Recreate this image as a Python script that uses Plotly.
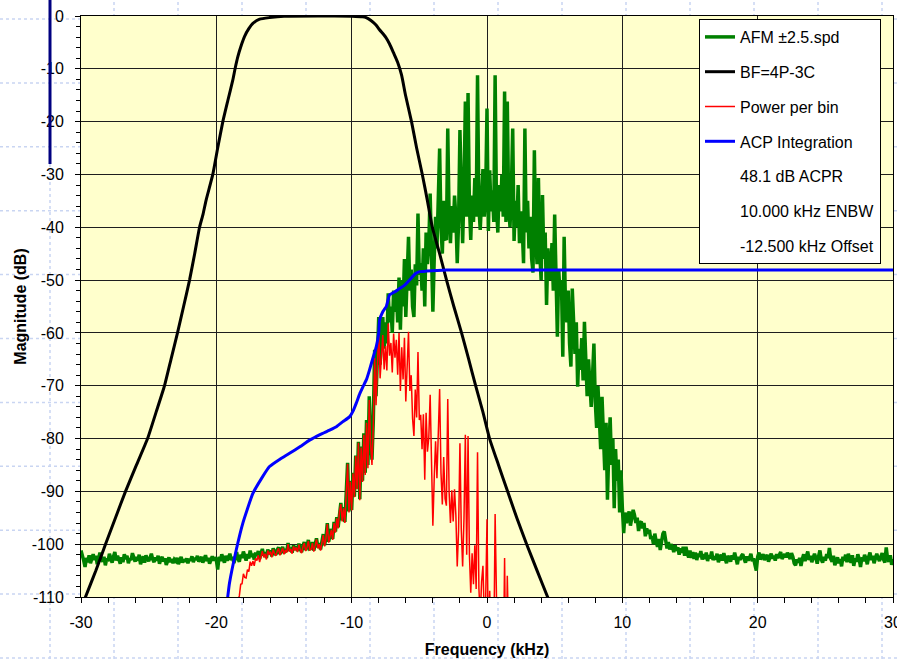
import numpy as np
import plotly.graph_objects as go

FONT = "Liberation Sans, Arial, sans-serif"

# ---------------- data ----------------
afm_start = -30.0   # kHz, first bin of the AFM spectrum
afm_step = 0.1      # kHz per bin
afm_db = [
    # -30.0 .. -13.1
    -101.2, -102.0, -103.1, -104.3, -102.6, -103.4, -102.1, -103.6, -102.8, -101.9,
    -103.0, -102.2, -103.8, -102.5, -101.6, -102.9, -103.3, -102.4, -104.0, -102.7,
    -103.2, -101.8, -102.6, -103.5, -102.3, -101.5, -103.1, -102.2, -102.9, -103.7,
    -102.5, -103.4, -101.9, -102.8, -102.2, -103.6, -102.7, -103.0, -101.7, -102.6,
    -103.3, -102.4, -103.1, -102.0, -103.8, -102.9, -102.3, -103.5, -102.1, -102.8,
    -103.2, -102.6, -101.8, -102.9, -103.4, -102.5, -103.1, -102.2, -103.7, -102.8,
    -102.4, -103.3, -102.7, -103.9, -103.1, -102.5, -103.4, -102.8, -103.6, -102.9,
    -103.2, -102.6, -103.8, -103.0, -102.4, -103.5, -102.9, -103.3, -102.7, -103.6,
    -102.8, -103.1, -102.3, -103.4, -102.6, -103.0, -102.2, -103.3, -102.7, -102.4,
    -103.5, -102.9, -102.1, -103.2, -102.6, -103.7, -102.8, -102.3, -103.1, -102.5,
    -103.0, -104.8, -102.4, -103.2, -101.9, -102.7, -103.5, -102.2, -103.1, -102.6,
    -101.8, -103.0, -102.4, -103.6, -102.1, -101.5, -102.8, -103.3, -102.0, -102.6,
    -101.4, -102.5, -103.1, -101.9, -102.7, -101.2, -102.4, -101.8, -102.9, -101.6,
    -102.2, -101.3, -102.8, -101.7, -100.9, -102.1, -101.5, -102.6, -101.0, -101.8,
    -101.2, -102.3, -100.8, -101.6, -102.0, -101.1, -100.6, -101.9, -101.3, -100.5,
    -101.7, -100.9, -101.4, -99.8, -101.2, -100.7, -101.6, -100.2, -101.0, -100.4,
    -101.3, -99.9, -100.8, -101.5, -100.3, -99.6, -101.1, -100.5, -99.2, -100.9,
    # -13.0 .. -8.1
    -100.8, -99.6, -101.2, -100.1, -98.9, -100.6, -99.8, -101.0, -99.2, -98.1,
    -100.2, -98.7, -96.0, -99.5, -98.3, -97.1, -99.0, -95.8, -97.6, -94.9,
    -96.8, -93.5, -92.2, -95.5, -93.0, -95.8, -90.1, -84.6, -93.8, -88.0,
    -93.5, -86.5, -91.0, -83.2, -89.5, -80.6, -91.5, -81.5, -88.0, -79.0,
    -86.5, -76.5, -85.0, -72.0, -80.0, -84.0, -76.5, -63.2, -72.0, -65.0,
    # -8.0 .. -0.1
    -57.0, -66.0, -60.7, -57.0, -63.0, -58.0, -62.0, -52.5, -58.0, -55.0,
    -60.0, -52.0, -56.0, -52.0, -58.0, -49.5, -59.4, -50.0, -55.0, -46.0,
    -57.0, -50.0, -41.8, -52.0, -48.0, -55.0, -57.0, -47.0, -51.0, -37.4,
    -49.0, -46.8, -52.0, -44.0, -55.0, -41.0, -47.0, -43.0, -33.6, -45.0,
    -56.0, -46.0, -38.0, -44.0, -33.0, -25.1, -40.0, -45.0, -35.0, -42.0,
    -42.4, -21.3, -38.0, -43.0, -36.0, -41.0, -34.0, -38.0, -46.8, -39.0,
    -21.6, -37.0, -43.0, -33.0, -16.2, -38.0, -14.6, -36.0, -42.4, -34.0,
    -39.0, -30.7, -38.0, -11.2, -36.0, -40.5, -33.0, -29.0, -38.0, -34.0,
    # 0.0 .. 7.9
    -17.5, -40.7, -29.2, -37.0, -33.0, -39.0, -11.2, -36.0, -41.0, -32.0,
    -37.0, -30.0, -38.0, -14.3, -39.0, -16.2, -36.0, -40.0, -33.0, -21.3,
    -42.6, -35.0, -40.0, -32.0, -43.0, -37.0, -40.0, -46.8, -21.3, -41.0,
    -35.0, -44.0, -38.0, -46.0, -48.6, -25.4, -42.0, -47.0, -30.7, -45.0,
    -50.0, -33.9, -46.0, -41.0, -54.7, -44.0, -48.0, -50.0, -43.0, -52.0,
    -37.6, -49.0, -60.7, -48.0, -53.0, -50.0, -64.5, -41.8, -55.0, -58.0,
    -52.0, -62.0, -66.4, -51.6, -60.0, -64.0, -58.0, -70.2, -63.0, -67.0,
    -61.0, -69.0, -57.9, -66.0, -72.0, -65.0, -70.0, -74.0, -68.0, -62.0,
    # 8.0 .. 15.9
    -73.0, -78.0, -70.0, -75.0, -82.0, -72.1, -80.0, -86.0, -77.0, -91.6,
    -82.0, -76.0, -85.0, -80.0, -93.2, -82.0, -88.0, -84.0, -94.0, -86.0,
    -93.0, -97.9, -94.0, -96.0, -95.0, -93.8, -96.5, -95.0, -93.5, -94.5,
    -96.0, -95.0, -97.5, -96.0, -95.7, -97.0, -96.0, -98.5, -97.0, -98.0,
    -97.3, -99.0, -98.5, -100.0, -98.0, -99.5, -100.5, -99.0, -101.1, -99.5,
    -98.0, -97.6, -99.5, -100.8, -99.6, -101.0, -100.0, -100.5, -101.5, -100.2,
    -101.2, -100.6, -102.0, -100.8, -101.6, -100.5, -102.2, -100.5, -101.8, -102.5,
    -101.2, -102.6, -101.5, -102.8, -101.6, -103.0, -101.8, -102.4, -101.3, -102.9,
    # 16.0 .. 30.0
    -101.9, -102.8, -101.6, -103.2, -102.1, -102.7, -101.4, -103.0, -102.3, -102.9,
    -101.8, -103.4, -102.6, -102.0, -103.1, -101.7, -102.8, -103.6, -102.2, -102.7,
    -103.3, -102.1, -102.9, -101.6, -102.5, -103.8, -102.4, -103.0, -102.2, -101.9,
    -102.8, -103.5, -102.3, -103.1, -102.6, -101.8, -103.2, -102.7, -103.9, -105.0,
    -102.4, -101.6, -102.9, -102.2, -101.9, -103.0, -102.5, -102.0, -103.3, -102.6,
    -101.8, -102.7, -102.2, -103.1, -101.9, -102.6, -102.0, -101.5, -102.8, -102.3,
    -101.9, -102.5, -101.6, -102.2, -102.8, -101.7, -102.4, -103.6, -104.0, -102.9,
    -103.5, -102.6, -104.1, -102.8, -101.9, -103.2, -102.5, -101.4, -103.0, -102.2,
    -103.4, -102.8, -101.8, -102.6, -103.7, -102.3, -101.2, -102.9, -103.5, -102.4,
    -103.1, -101.9, -102.6, -100.7, -102.8, -103.3, -102.2, -104.0, -103.0, -102.5,
    -103.6, -102.8, -104.2, -102.4, -103.1, -102.0, -103.4, -101.8, -102.9, -103.5,
    -102.1, -104.1, -102.7, -103.3, -101.9, -102.8, -104.3, -102.5, -103.2, -102.0,
    -102.7, -103.8, -102.4, -101.6, -103.0, -102.2, -103.6, -102.9, -101.8, -102.6,
    -103.2, -102.4, -101.7, -102.9, -103.5, -100.6, -102.8, -103.3, -102.1, -103.9,
    -102.8,
]

power_start = -18.4  # kHz, first bin of the power-per-bin trace
power_step = 0.1
power_db = [
    -110.5, -109.8, -107.6, -107.5,
    -105.6, -106.3, -106.4, -104.8, -105.2, -103.3, -104.1, -103.2, -104.1, -102.7,
    -103.1, -102.1, -103.4, -102.2, -101.3, -102.5, -101.8, -102.9, -101.2, -102.0,
    -101.4, -102.5, -101.0, -101.8, -102.2, -101.3, -100.8, -102.1, -101.5, -100.7,
    -101.9, -101.1, -101.6, -100.0, -101.4, -100.9, -101.8, -100.4, -101.2, -100.6,
    -101.5, -100.1, -101.0, -101.7, -100.5, -99.8, -101.3, -100.7, -99.4, -101.1,
    -101.0, -99.8, -101.4, -100.3, -99.1, -100.8, -100.0, -101.2, -99.4, -98.3,
    -100.4, -98.9, -96.2, -99.7, -98.5, -97.3, -99.2, -96.0, -97.8, -95.1,
    -97.0, -93.7, -92.4, -95.7, -93.2, -96.0, -90.3, -84.8, -94.0, -88.2,
    -93.6, -86.6, -91.1, -83.3, -89.6, -80.8, -91.7, -81.7, -88.2, -79.3,
    -86.9, -77.0, -85.6, -72.7, -80.9, -85.0, -77.7, -64.7, -73.7, -67.0,
    -59.2, -68.6, -63.7, -60.4, -66.9, -62.5, -67.1, -58.2, -64.3, -61.9,
    -67.5, -60.1, -64.7, -61.3, -67.9, -60.0, -71.0, -62.7, -68.8, -60.9,
    -73.0, -67.0, -59.8, -71.0, -68.0, -76.2, -79.5, -70.7, -76.0, -63.6,
    -76.5, -75.5, -82.0, -75.4, -87.8, -75.1, -82.5, -79.8, -71.7, -84.3,
    -96.5, -87.5, -80.5, -87.5, -77.5, -70.6, -86.5, -92.5, -83.5, -91.4,
    -92.7, -72.5, -90.1, -96.0, -89.8, -95.7, -89.6, -94.5, -104.2, -97.4,
    -80.9, -97.2, -104.2, -95.1, -79.3, -102.0, -79.5, -101.9, -109.2, -101.7,
    -107.6, -100.2, -108.5, -82.6, -108.3, -113.7, -107.1, -104.1, -114.0, -110.9,
    -95.3, -119.4, -108.8, -117.5, -114.4, -121.3, -94.3, -119.8, -125.6, -117.3,
    -123.1, -116.8, -125.6, -102.6, -128.0, -106.0, -126.5, -131.2, -125.0, -114.0,
]

bf_freq = [-30.0, -29.67, -28.9, -28.19, -27.45, -26.71, -25.9, -25.08, -24.45, -23.83,
           -23.35, -22.87, -22.42, -21.98, -21.6, -21.24, -20.98, -20.75, -20.26, -19.9,
           -19.52, -19.15, -18.78, -18.6, -18.41, -18.15, -17.92, -17.6, -17.3, -16.8,
           -16.07, -15.0, -12.5, -10.0, -9.2, -8.93, -8.6, -8.2, -7.94, -7.49,
           -7.2, -6.9, -6.61, -6.31, -6.02, -5.57, -5.2, -4.78, -4.4, -4.04,
           -3.5, -2.99, -2.45, -1.88, -1.35, -0.84, -0.3, 0.19, 0.85, 1.52,
           2.2, 2.93, 3.7, 4.48, 5.0]
bf_db = [-112.4, -110.0, -105.0, -100.0, -95.0, -90.0, -85.0, -80.0, -75.0, -70.0,
         -65.0, -60.0, -55.0, -50.0, -45.0, -40.0, -37.5, -34.8, -30.0, -25.0,
         -20.0, -16.0, -12.1, -9.8, -7.7, -5.5, -3.9, -2.4, -1.4, -0.6,
         -0.3, -0.05, 0.0, -0.05, -0.15, -0.3, -0.8, -1.7, -2.6, -4.0,
         -5.3, -7.0, -8.7, -11.2, -15.0, -20.1, -25.0, -30.0, -35.0, -40.0,
         -45.0, -50.0, -55.0, -60.0, -65.0, -70.0, -75.0, -80.0, -85.0, -90.0,
         -95.0, -100.0, -105.0, -110.0, -113.3]

acp_freq = [-19.25, -19.03, -18.53, -18.04, -17.30, -16.6, -16.07, -15.3, -14.59, -13.8,
            -13.11, -12.3, -11.63, -11.1, -10.65, -10.16, -9.9, -9.66, -9.4, -9.17,
            -8.9, -8.68, -8.4, -8.18, -8.0, -7.94, -7.7, -7.44, -7.2, -6.8,
            -6.46, -6.1, -5.72, -5.3, -4.98, -4.5, -3.0, 30.0]
acp_db = [-112.0, -107.4, -101.1, -96.0, -90.4, -87.3, -85.3, -83.9, -82.8, -81.5,
          -80.3, -79.2, -78.4, -77.7, -76.8, -75.9, -74.8, -73.3, -71.5, -70.2,
          -68.8, -67.0, -64.5, -62.6, -60.0, -57.6, -56.0, -55.0, -52.8, -52.2,
          -51.6, -51.0, -50.0, -48.8, -48.4, -48.3, -48.1, -48.1]

series_names = ["AFM ±2.5.spd", "BF=4P-3C", "Power per bin", "ACP Integration"]
legend_notes = ["48.1 dB ACPR", "10.000 kHz ENBW", "-12.500 kHz Offset"]

x_tick_vals = [-30, -20, -10, 0, 10, 20, 30]
x_tick_text = ["-30", "-20", "-10", "0", "10", "20", "30"]
y_tick_vals = [0, -10, -20, -30, -40, -50, -60, -70, -80, -90, -100, -110]
y_tick_text = ["0", "-10", "-20", "-30", "-40", "-50", "-60", "-70", "-80", "-90", "-100", "-110"]

assert len(afm_db) == 601, len(afm_db)
assert len(power_db) == 204, len(power_db)
assert len(bf_freq) == len(bf_db)
assert len(acp_freq) == len(acp_db)

afm_freq = np.round(afm_start + afm_step * np.arange(len(afm_db)), 2)
power_freq = np.round(power_start + power_step * np.arange(len(power_db)), 2)

# ---------------- layout geometry ----------------
W, H = 897, 659
ML, MR, MT, MB = 81, 4, 16, 62
PW, PH = W - ML - MR, H - MT - MB


def px(xpix):
    return (xpix - ML) / PW


def py(ypix):
    return (H - MB - ypix) / PH


fig = go.Figure()
fig.add_trace(go.Scatter(x=afm_freq, y=afm_db, mode="lines", name=series_names[0],
                         legendgroup="a", line=dict(color="#008000", width=3.5)))
fig.add_trace(go.Scatter(x=bf_freq, y=bf_db, mode="lines", name=series_names[1],
                         legendgroup="b", line=dict(color="#000000", width=3, shape="spline", smoothing=0.5)))
fig.add_trace(go.Scatter(x=power_freq, y=power_db, mode="lines", name=series_names[2],
                         legendgroup="c", line=dict(color="#FF0000", width=1.5)))
fig.add_trace(go.Scatter(x=acp_freq, y=acp_db, mode="lines", name=series_names[3],
                         legendgroup="d", line=dict(color="#0000FF", width=3, shape="spline", smoothing=0.4)))
for i, note in enumerate(legend_notes):
    fig.add_trace(go.Scatter(x=[None], y=[None], mode="lines", name=note,
                             legendgroup=f"n{i}", hoverinfo="skip",
                             line=dict(color="rgba(0,0,0,0)", width=3)))

shapes = []
# faint worksheet cell lines behind the chart
for k in range(14):
    xx = px(50 + 64 * k)
    shapes.append(dict(type="line", xref="paper", yref="paper", x0=xx, x1=xx,
                       y0=py(H), y1=py(0), layer="below",
                       line=dict(color="#c9d5f2", width=1.5, dash="dot")))
for k in range(11):
    yy = py(19 + 63.9 * k)
    shapes.append(dict(type="line", xref="paper", yref="paper", x0=px(0), x1=px(W),
                       y0=yy, y1=yy, layer="below",
                       line=dict(color="#c9d5f2", width=1.5, dash="dot")))
# plot area fill
shapes.append(dict(type="rect", xref="paper", yref="paper", x0=0, x1=1, y0=0, y1=1,
                   layer="below", fillcolor="#FFFFCC", line=dict(width=0)))
# navy bar at left
shapes.append(dict(type="line", xref="paper", yref="paper", x0=px(50), x1=px(50),
                   y0=py(0), y1=py(164), layer="above",
                   line=dict(color="#000080", width=3)))

axis_common = dict(
    showline=True, linecolor="#000000", linewidth=1, mirror=True,
    showgrid=True, gridcolor="#1e1e1e", gridwidth=1, zeroline=False,
    ticks="outside", tickcolor="#000000", tickwidth=1,
    tickfont=dict(family=FONT, size=16, color="#000000"),
    automargin=False, ticklabeloverflow="allow",
)

fig.update_layout(
    width=W, height=H,
    margin=dict(l=ML, r=MR, t=MT, b=MB, pad=0, autoexpand=False),
    paper_bgcolor="#FFFFFF", plot_bgcolor="#FFFFCC",
    template="none",
    shapes=shapes,
    showlegend=True,
    legend=dict(x=px(699), y=py(19), xanchor="left", yanchor="top",
                bgcolor="#FFFFFF", bordercolor="#000000", borderwidth=1,
                font=dict(family=FONT, size=16, color="#000000"),
                tracegroupgap=11, itemwidth=30, traceorder="grouped"),
    xaxis=dict(range=[-30, 30], tickmode="array", tickvals=x_tick_vals, ticktext=x_tick_text,
               ticklen=5, ticklabelstandoff=6,
               minor=dict(tickmode="linear", tick0=-30, dtick=2, ticks="outside", ticklen=5,
                          tickcolor="#000000", showgrid=False),
               title=dict(text="Frequency (kHz)", standoff=13,
                          font=dict(family=FONT, size=16, color="#000000", weight="bold")),
               **axis_common),
    yaxis=dict(range=[-110, 0], tickmode="array", tickvals=y_tick_vals, ticktext=y_tick_text,
               ticklen=5, ticklabelstandoff=8,
               minor=dict(tickmode="linear", tick0=0, dtick=2, ticks="outside", ticklen=4,
                          tickcolor="#000000", showgrid=False),
               title=dict(text="Magnitude (dB)", standoff=1,
                          font=dict(family=FONT, size=16, color="#000000", weight="bold")),
               **axis_common),
)

fig.write_html("out.html")
